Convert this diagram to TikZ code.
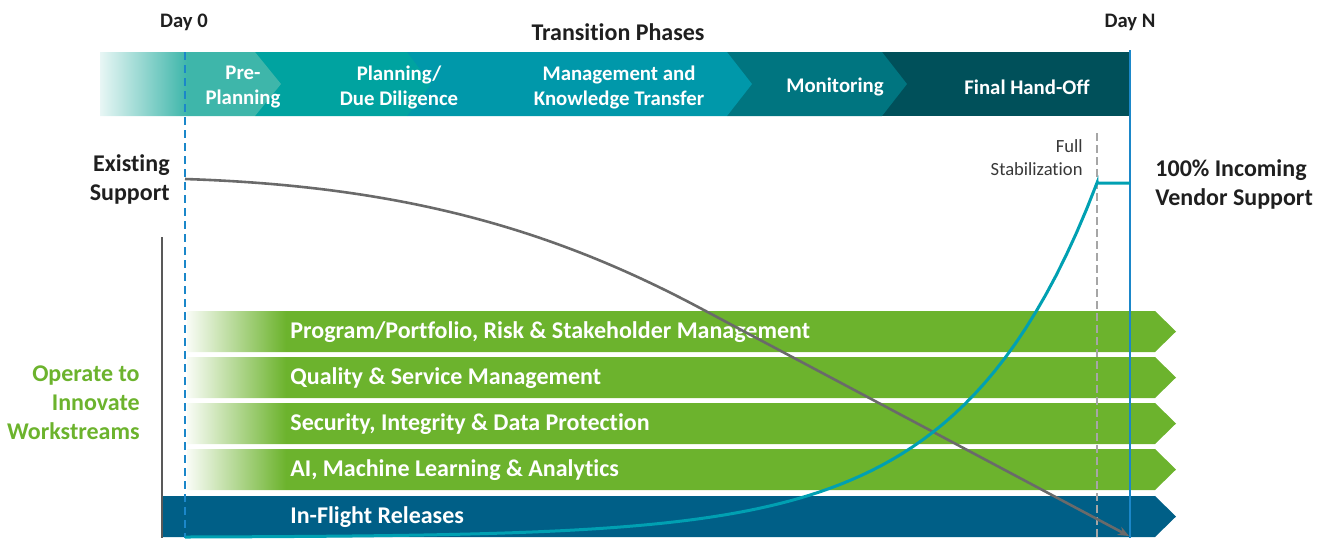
\documentclass[tikz,border=0pt]{standalone}
\usepackage{fontspec}
\setmainfont{Carlito}[Ligatures=NoCommon]
\usetikzlibrary{arrows.meta}
\definecolor{phaseA}{HTML}{3EB6AA}
\definecolor{phaseB}{HTML}{00A3A0}
\definecolor{phaseC}{HTML}{0098AA}
\definecolor{phaseD}{HTML}{007580}
\definecolor{phaseE}{HTML}{00505A}
\definecolor{streamgreen}{HTML}{6CB32D}
\definecolor{flightblue}{HTML}{005F87}
\definecolor{dayblue}{HTML}{1B87C9}
\definecolor{vendorteal}{HTML}{00A0B2}
\definecolor{legacygray}{HTML}{6A6A6A}
\colorlet{phasepale}{phaseA!12}
\colorlet{streampale}{streamgreen!4}
\pgfdeclarehorizontalshading{phasefade}{100bp}{color(0bp)=(phasepale); color(25bp)=(phasepale); color(49bp)=(phaseA); color(100bp)=(phaseA)}
\pgfdeclarehorizontalshading{streamfade}{100bp}{color(0bp)=(streampale); color(25bp)=(streampale); color(30bp)=(streamgreen); color(100bp)=(streamgreen)}
\begin{document}
\begin{tikzpicture}[x=0.5pt,y=-0.5pt,
    phasetext/.style={text=white,font=\fontsize{10.4}{12.5}\selectfont\bfseries,align=center},
    streamtext/.style={text=white,font=\fontsize{12}{14}\selectfont\bfseries,anchor=west,inner sep=0pt,text height=0.7em,text depth=0.22em},
    sidetext/.style={font=\fontsize{12}{14.5}\selectfont\bfseries,text=black!88,inner sep=0pt},
    daytext/.style={font=\fontsize{10.3}{12}\selectfont\bfseries,text=black!88},
    dayline/.style={dayblue,line width=1pt},
  ]
            \useasboundingbox (0,0) rectangle (1327,538);

            %Phases
            \fill[phaseE] (882,52) rectangle (1130,116);
            \fill[phaseD] (727,52) -- (882,52) -- (907,84) -- (882,116) -- (727,116) -- cycle;
            \fill[phaseC] (407,52) -- (727,52) -- (752,84) -- (727,116) -- (407,116) -- cycle;
            \fill[phaseB] (255,52) -- (407,52) -- (431,84) -- (407,116) -- (255,116) -- cycle;
            \shade[shading=phasefade] (100,52) -- (255,52) -- (281,84) -- (255,116) -- (100,116) -- cycle;

            %Workstreams
            \shade[shading=streamfade] (187,311) -- (1155,311) -- (1176,331.5) -- (1155,352) -- (187,352) -- cycle;
            \shade[shading=streamfade] (187,357) -- (1155,357) -- (1176,377.5) -- (1155,398) -- (187,398) -- cycle;
            \shade[shading=streamfade] (187,403) -- (1155,403) -- (1176,423.5) -- (1155,444) -- (187,444) -- cycle;
            \shade[shading=streamfade] (187,449) -- (1155,449) -- (1176,469.5) -- (1155,490) -- (187,490) -- cycle;
            \fill[flightblue] (163,496) -- (1155,496) -- (1176,516.5) -- (1155,537) -- (163,537) -- cycle;

            %Nodes
            \node[daytext] at (184,22) (day0) {Day 0};
            \node[daytext] at (1130,22) (dayN) {Day N};
            \node[font=\fontsize{12}{14}\selectfont\bfseries,text=black!88] at (618,32) (title) {Transition Phases};
            \node[phasetext] at (243,87) (pre) {Pre-\\Planning};
            \node[phasetext] at (399,87) (plan) {Planning/\\Due Diligence};
            \node[phasetext] at (619,87) (mgmt) {Management and\\Knowledge Transfer};
            \node[phasetext] at (835,87) (mon) {Monitoring};
            \node[phasetext] at (1027,87) (final) {Final Hand-Off};
            \node[sidetext,align=right,anchor=east] at (170,179.5) (exist) {Existing\\Support};
            \node[sidetext,align=left,anchor=west] at (1155,184.5) (vendor) {100\% Incoming\\Vendor Support};
            \node[sidetext,align=right,anchor=east,text=streamgreen] at (140,403) (operate) {Operate to\\Innovate\\Workstreams};
            \node[font=\fontsize{9.3}{11.5}\selectfont,text=black!78,align=right,anchor=east,inner sep=0pt] at (1083,157.5) (stabtext) {Full\\Stabilization};
            \node[streamtext] at (290,334) (prog) {Program/Portfolio, Risk \& Stakeholder Management};
            \node[streamtext] at (290,380) (qual) {Quality \& Service Management};
            \node[streamtext] at (290,426) (sec) {Security, Integrity \& Data Protection};
            \node[streamtext] at (290,472) (ai) {AI, Machine Learning \& Analytics};
            \node[streamtext] at (290,519) (flight) {In-Flight Releases};

            \coordinate (d0top) at (185,52);
            \coordinate (d0bot) at (185,538);
            \coordinate (dNtop) at (1130,50);
            \coordinate (dNbot) at (1130,538);
            \coordinate (stabtop) at (1097,133);
            \coordinate (stabbot) at (1097,538);
            \coordinate (axistop) at (162,237);
            \coordinate (axisbot) at (162,538);
            \coordinate (oldstart) at (185,179);
            \coordinate (oldbend) at (700,308);
            \coordinate (oldend) at (1129,536);
            \coordinate (newfull) at (1097,183);
            \coordinate (newend) at (1130,183);

            %Lines
            \draw[dayline,dash pattern=on 4pt off 2.5pt] (d0top) -- (d0bot);
            \draw[dayline] (dNtop) -- (dNbot);
            \draw[black!35,line width=0.8pt,dash pattern=on 4pt off 2pt] (stabtop) -- (stabbot);
            \draw[black!65,line width=1.3pt] (axistop) -- (axisbot);
            \draw[legacygray,line width=1.3pt,-{Stealth[length=5.5pt,width=4.5pt]}] (oldstart) .. controls (400,186) and (550,228) .. (oldbend) -- (oldend);
            \draw[vendorteal,line width=1.5pt] plot[domain=185:1097,samples=90] (\x,{537-0.4155*(exp(0.0074*(\x-185))-1)}) -- (newfull) -- (newend);
        \end{tikzpicture}
\end{document}
